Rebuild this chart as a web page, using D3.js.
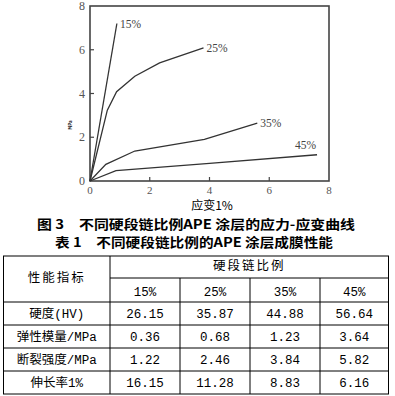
<!DOCTYPE html>
<html>
<head>
<meta charset="utf-8">
<script src="https://cdn.jsdelivr.net/npm/d3@7"></script>
<style>
  body { margin: 0; background: #fff; }
  svg { display: block; }
  text { white-space: pre; }
</style>
</head>
<body>
<svg width="395" height="396"></svg>
<script>

// stress-strain curves (strain %, stress MPa)
const strain15 = [0, 0.9];
const stress15 = [0, 7.2];
const strain25 = [0, 0.58, 0.89, 1.5, 2.33, 3.8];
const stress25 = [0, 3.24, 4.08, 4.79, 5.4, 6.09];
const strain35 = [0, 0.53, 1.5, 3.83, 5.6];
const stress35 = [0, 0.76, 1.37, 1.9, 2.65];
const strain45 = [0, 0.87, 4, 7.6];
const stress45 = [0, 0.47, 0.81, 1.2];
const curveLabels = ["15%", "25%", "35%", "45%"];

const xTicks = [0, 2, 4, 6, 8];
const yTicks = [0, 2, 4, 6, 8];

// table
const ratios = ["15%", "25%", "35%", "45%"];
const props = ["硬度(HV)", "弹性模量/MPa", "断裂强度/MPa", "伸长率1%"];
const hardness = ["26.15", "35.87", "44.88", "56.64"];
const modulus = ["0.36", "0.68", "1.23", "3.64"];
const strength = ["1.22", "2.46", "3.84", "5.82"];
const elongation = ["16.15", "11.28", "8.83", "6.16"];

const svg = d3.select('svg');

const x = d3.scaleLinear().domain([0, 8]).range([90, 329]);
const y = d3.scaleLinear().domain([0, 8]).range([181, 6]);

const axisColor = "#444";
const serif = "'Liberation Serif', 'DejaVu Serif', serif";
const cjk = "'Noto Sans CJK SC', sans-serif";
const tableFont = "'Liberation Mono', 'Noto Sans CJK SC', monospace";

// frame
svg.append("rect")
    .attr("x", x(0)).attr("y", y(8))
    .attr("width", x(8) - x(0)).attr("height", y(0) - y(8))
    .attr("fill", "none").attr("stroke", axisColor).attr("stroke-width", 1.6);

// ticks inward
const g = svg.append("g");
g.selectAll("line.xt")
    .data(xTicks.slice(1, -1))
    .join("line")
    .attr("x1", d => x(d)).attr("x2", d => x(d))
    .attr("y1", y(0)).attr("y2", y(0) - 4)
    .attr("stroke", axisColor).attr("stroke-width", 1.2);
g.selectAll("line.yt")
    .data(yTicks.slice(1, -1))
    .join("line")
    .attr("x1", x(0)).attr("x2", x(0) + 4)
    .attr("y1", d => y(d)).attr("y2", d => y(d))
    .attr("stroke", axisColor).attr("stroke-width", 1.2);

g.selectAll("text.xl")
    .data(xTicks)
    .join("text")
    .attr("x", d => x(d)).attr("y", y(0) + 12.5)
    .attr("text-anchor", "middle")
    .attr("font-family", serif).attr("font-size", 11).attr("fill", "#555")
    .text(d => d);
g.selectAll("text.yl")
    .data(yTicks)
    .join("text")
    .attr("x", x(0) - 5).attr("y", d => y(d) + 4)
    .attr("text-anchor", "end")
    .attr("font-family", serif).attr("font-size", 12).attr("fill", "#555")
    .text(d => d);

// tiny y axis title
svg.append("text")
    .attr("transform", `translate(72,125) rotate(-90)`)
    .attr("text-anchor", "middle")
    .attr("font-family", cjk).attr("font-size", 4.5).attr("font-weight", "bold")
    .text("MPa");

// x axis title
svg.append("text")
    .attr("x", 212).attr("y", 210)
    .attr("text-anchor", "middle")
    .attr("font-family", cjk).attr("font-size", 12)
    .text("应变1%");

// curves
const series = [
    [strain15, stress15],
    [strain25, stress25],
    [strain35, stress35],
    [strain45, stress45]
];
const line = d3.line().x(d => x(d[0])).y(d => y(d[1]));

series.forEach(([xs, ys], i) => {
    const pts = xs.map((v, j) => [v, ys[j]]);
    svg.append("path")
        .attr("d", line(pts))
        .attr("fill", "none").attr("stroke", "#333").attr("stroke-width", 1.3);
    const last = pts[pts.length - 1];
    const dx = i === 3 ? -22 : 3;
    const dy = i === 3 ? -6 : 4;
    svg.append("text")
        .attr("x", x(last[0]) + dx).attr("y", y(last[1]) + dy)
        .attr("font-family", serif).attr("font-size", 11.5).attr("fill", "#444")
        .text(curveLabels[i]);
});

// captions
svg.append("text")
    .attr("x", 196).attr("y", 229)
    .attr("text-anchor", "middle")
    .attr("font-family", cjk).attr("font-size", 13).attr("font-weight", "bold")
    .attr("textLength", 318).attr("lengthAdjust", "spacingAndGlyphs")
    .text("图 3　不同硬段链比例APE 涂层的应力-应变曲线");
svg.append("text")
    .attr("x", 194).attr("y", 247)
    .attr("text-anchor", "middle")
    .attr("font-family", cjk).attr("font-size", 13).attr("font-weight", "bold")
    .attr("textLength", 278).attr("lengthAdjust", "spacingAndGlyphs")
    .text("表 1　不同硬段链比例的APE 涂层成膜性能");

// table
const colX = [3.5, 110, 180, 250, 320, 388.5];
const rowY = [256, 278, 302, 325, 348, 371, 394];
const tg = svg.append("g").attr("stroke", "#000").attr("stroke-width", 1);

tg.append("rect")
    .attr("x", colX[0]).attr("y", rowY[0])
    .attr("width", colX[5] - colX[0]).attr("height", rowY[6] - rowY[0])
    .attr("fill", "none");
// header split
tg.append("line").attr("x1", colX[1]).attr("x2", colX[5]).attr("y1", rowY[1]).attr("y2", rowY[1]);
tg.selectAll("line.h")
    .data(rowY.slice(2, 6))
    .join("line")
    .attr("x1", colX[0]).attr("x2", colX[5])
    .attr("y1", d => d).attr("y2", d => d);
tg.append("line").attr("x1", colX[1]).attr("x2", colX[1]).attr("y1", rowY[0]).attr("y2", rowY[6]);
tg.selectAll("line.v")
    .data(colX.slice(2, 5))
    .join("line")
    .attr("x1", d => d).attr("x2", d => d)
    .attr("y1", rowY[1]).attr("y2", rowY[6]);

const cell = (tx, ty, t) => svg.append("text")
    .attr("x", tx).attr("y", ty)
    .attr("text-anchor", "middle").attr("dominant-baseline", "central")
    .attr("font-family", tableFont).attr("font-size", 12.5)
    .text(t);

cell((colX[0] + colX[1]) / 2, (rowY[0] + rowY[2]) / 2, "性能指标").attr("letter-spacing", 2);
cell((colX[1] + colX[5]) / 2, (rowY[0] + rowY[1]) / 2, "硬段链比例").attr("letter-spacing", 2);
ratios.forEach((r, i) => cell((colX[i + 1] + colX[i + 2]) / 2, (rowY[1] + rowY[2]) / 2 + 3, r));

const rows = [hardness, modulus, strength, elongation];
rows.forEach((vals, r) => {
    const cy = (rowY[r + 2] + rowY[r + 3]) / 2 + 1;
    cell((colX[0] + colX[1]) / 2, cy, props[r]);
    vals.forEach((v, i) => cell((colX[i + 1] + colX[i + 2]) / 2, cy, v));
});

</script>
</body>
</html>
